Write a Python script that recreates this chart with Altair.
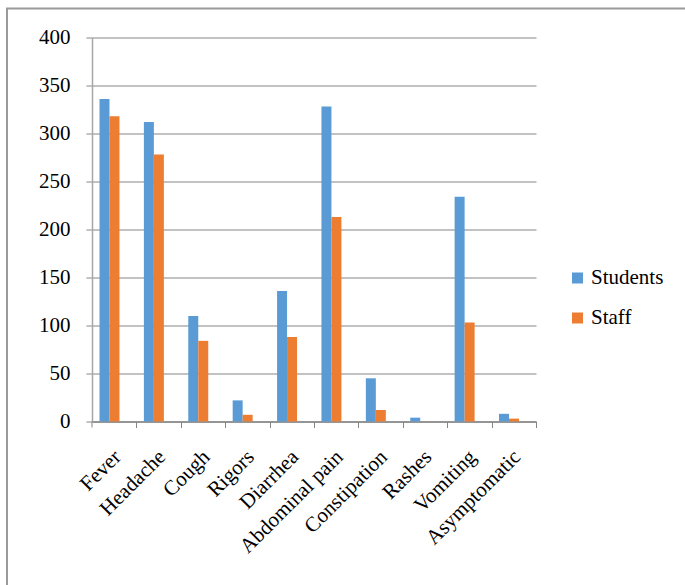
import altair as alt
import pandas as pd

# Reported symptoms by group
symptoms = ["Fever", "Headache", "Cough", "Rigors", "Diarrhea",
            "Abdominal pain", "Constipation", "Rashes", "Vomiting", "Asymptomatic"]
students = [336, 312, 110, 22, 136, 328, 45, 4, 234, 8]
staff = [318, 278, 84, 7, 88, 213, 12, 0, 103, 3]
series = ["Students", "Staff"]
colors = ["#5B9BD5", "#ED7D31"]
y_ticks = [0, 50, 100, 150, 200, 250, 300, 350, 400]

rows = []
for i, s in enumerate(symptoms):
    rows.append({"symptom": s, "group": "Students", "count": students[i]})
    rows.append({"symptom": s, "group": "Staff", "count": staff[i]})
df = pd.DataFrame(rows)

FONT = "Liberation Serif"
W, H = 444, 384

bars = alt.Chart(df).mark_bar().encode(
    x=alt.X(
        "symptom:N",
        sort=symptoms,
        title=None,
        scale=alt.Scale(paddingInner=0.55, paddingOuter=0.276, align=0.306),
        axis=alt.Axis(
            labelAngle=-45,
            labelAlign="right",
            labelBaseline="middle",
            labelPadding=26,
            labelOffset=-19,
            tickOffset=26.9,
            tickSize=6,
            tickColor="#868686",
            domainColor="#868686",
            domainWidth=1.3,
            grid=False,
        ),
    ),
    xOffset=alt.XOffset("group:N", sort=series,
                        scale=alt.Scale(paddingInner=0, paddingOuter=0)),
    y=alt.Y(
        "count:Q",
        title=None,
        scale=alt.Scale(domain=[0, 400], nice=False),
        axis=alt.Axis(
            values=y_ticks,
            labelPadding=16,
            tickSize=6,
            tickColor="#868686",
            domainColor="#a6a6a6",
            domainWidth=1.5,
            gridColor="#868686",
            gridWidth=1.2,
        ),
    ),
    color=alt.Color(
        "group:N",
        sort=series,
        scale=alt.Scale(domain=series, range=colors),
        legend=alt.Legend(
            title=None,
            orient="none",
            legendX=475,
            legendY=230,
            symbolType="square",
            symbolSize=121,
            symbolStrokeWidth=0,
            labelOffset=3,
            rowPadding=18,
            padding=0,
        ),
    ),
)

# tick at the left end of the category axis
first_tick = alt.Chart(pd.DataFrame({"k": [0]})).mark_rule(
    color="#868686", strokeWidth=1
).encode(x=alt.value(0), y=alt.value(H), y2=alt.value(H + 6))

# frame around the chart
frame = alt.Chart(pd.DataFrame({"k": [0]})).mark_rect(
    fill="transparent", stroke="#9a9a9a", strokeWidth=2
).encode(
    x=alt.value(-85), x2=alt.value(640),
    y=alt.value(-29), y2=alt.value(600),
)

chart = alt.layer(frame, bars, first_tick).properties(
    width=W,
    height=H,
    autosize=alt.AutoSizeParams(type="none"),
    padding={"left": 92, "top": 37.5, "right": 149, "bottom": 163.5},
    background="white",
).configure_view(
    stroke=None
).configure_axis(
    labelFont=FONT, labelFontSize=21, labelColor="black"
).configure_legend(
    labelFont=FONT, labelFontSize=21, labelColor="black"
)

chart.save("out.html", embed_options={"renderer": "svg", "actions": False})
